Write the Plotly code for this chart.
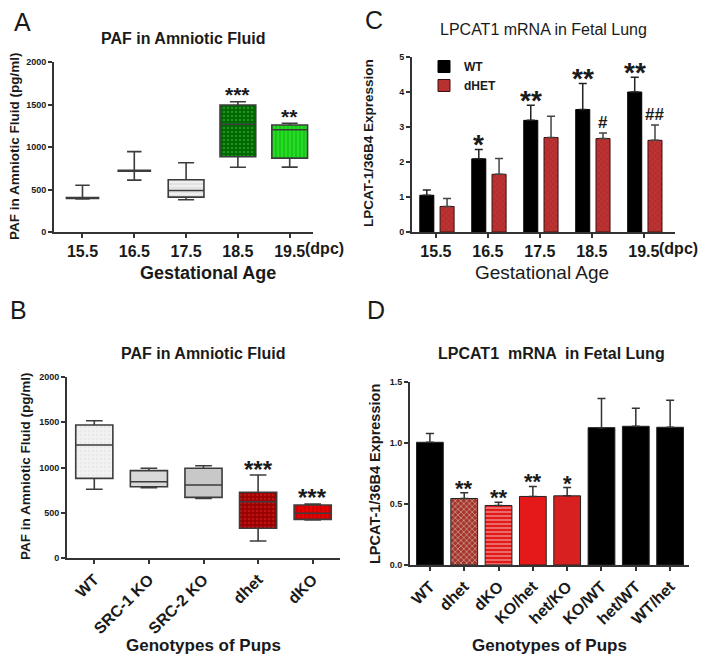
import plotly.graph_objects as go

W, H = 714, 666
FONT = "Arial, Liberation Sans, sans-serif"
INK = "#1a1a1a"
EDGE = "#3c3c3c"

# ---------------- Panel A : PAF in amniotic fluid by gestational age (box) --------------
a_ages = ["15.5", "16.5", "17.5", "18.5", "19.5"]
a_min = [388, 610, 380, 761, 763]
a_q1 = [396, 716, 410, 886, 869]
a_median = [402, 722, 488, 1267, 1203]
a_q3 = [406, 726, 615, 1494, 1259]
a_max = [550, 945, 815, 1533, 1279]
a_sig = ["", "", "", "***", "**"]

# ---------------- Panel B : PAF in amniotic fluid by genotype (box) ----------------------
b_genotypes = ["WT", "SRC-1 KO", "SRC-2 KO", "dhet", "dKO"]
b_min = [759, 777, 659, 188, 420]
b_q1 = [880, 788, 670, 328, 427]
b_median = [1249, 843, 807, 622, 494]
b_q3 = [1470, 965, 991, 726, 586]
b_max = [1517, 991, 1020, 917, 597]
b_sig = ["", "", "", "***", "***"]

# ---------------- Panel C : LPCAT1 mRNA, WT vs dHET, by age -----------------------------
c_ages = ["15.5", "16.5", "17.5", "18.5", "19.5"]
c_wt_mean = [1.05, 2.09, 3.19, 3.50, 4.00]
c_wt_sem = [0.15, 0.27, 0.43, 0.74, 0.42]
c_dhet_mean = [0.73, 1.65, 2.70, 2.67, 2.62]
c_dhet_sem = [0.23, 0.45, 0.61, 0.16, 0.44]
c_wt_sig = ["", "*", "**", "**", "**"]
c_dhet_sig = ["", "", "", "#", "##"]

# ---------------- Panel D : LPCAT1 mRNA by genotype -------------------------------------
d_genotypes = ["WT", "dhet", "dKO", "KO/het", "het/KO", "KO/WT", "het/WT", "WT/het"]
d_mean = [1.006, 0.545, 0.488, 0.562, 0.567, 1.126, 1.137, 1.129]
d_sem = [0.071, 0.047, 0.027, 0.082, 0.068, 0.238, 0.147, 0.221]
d_sig = ["", "**", "**", "**", "*", "", "", ""]


def px(x):
    return x / W


def py(y):
    return 1 - y / H


# styles (not data)
a_style = [
    dict(bg="white", fg="white", shape="", w=0.62),
    dict(bg="white", fg="white", shape="", w=0.62),
    dict(bg="#efefef", fg="#c8c8c8", shape="-", w=0.69),
    dict(bg="#006400", fg="#3fc03f", shape=".", w=0.69),
    dict(bg="#22dd22", fg="#119911", shape="|", w=0.69),
]
b_style = [
    dict(bg="#f2f2f2", fg="#e0e0e0", shape=".", w=0.68),
    dict(bg="#d9d9d9", fg="#d9d9d9", shape="", w=0.68),
    dict(bg="#c8c8c8", fg="#c8c8c8", shape="", w=0.68),
    dict(bg="#9a0000", fg="#e02828", shape=".", w=0.68),
    dict(bg="#e60000", fg="#a80000", shape="|", w=0.68),
]
d_bg = ["#000000", "#a33529", "#e31a1a", "#e51919", "#d82020", "#000000", "#000000", "#000000"]
d_fg = ["#000000", "#b8493d", "#ee3a3a", "#e51919", "#d82020", "#000000", "#000000", "#000000"]
d_shape = ["", "x", "-", "", "", "", "", ""]

fig = go.Figure()


def add_boxes(cats, lo, q1, med, q3, hi, styles, xa, ya):
    for i, c in enumerate(cats):
        st = styles[i]
        fig.add_trace(go.Bar(
            x=[c], y=[q3[i] - q1[i]], base=[q1[i]], width=st["w"],
            marker=dict(color=st["bg"], line=dict(width=0),
                        pattern=dict(shape=st["shape"], fgcolor=st["fg"], bgcolor=st["bg"],
                                     size=4, solidity=0.35)),
            xaxis=xa, yaxis=ya, showlegend=False, hoverinfo="skip"))
        fig.add_trace(go.Box(
            x=[c], q1=[q1[i]], median=[med[i]], q3=[q3[i]],
            lowerfence=[lo[i]], upperfence=[hi[i]], width=st["w"], whiskerwidth=0.45,
            fillcolor="rgba(0,0,0,0)", line=dict(color=EDGE, width=1.6),
            boxpoints=False, xaxis=xa, yaxis=ya, showlegend=False, hoverinfo="skip"))


add_boxes(a_ages, a_min, a_q1, a_median, a_q3, a_max, a_style, "x", "y")
add_boxes(b_genotypes, b_min, b_q1, b_median, b_q3, b_max, b_style, "x3", "y3")

# Panel C bars
C_W = 0.27
fig.add_trace(go.Bar(
    x=c_ages, y=c_wt_mean, width=C_W, offset=-0.31, name="WT",
    marker=dict(color="#000000", line=dict(color="#000000", width=1)),
    error_y=dict(type="data", array=c_wt_sem, arrayminus=[0] * len(c_wt_sem), symmetric=False,
                 color="#222222", thickness=1.5, width=4),
    xaxis="x2", yaxis="y2", hoverinfo="skip"))
fig.add_trace(go.Bar(
    x=c_ages, y=c_dhet_mean, width=C_W, offset=0.08, name="dHET",
    marker=dict(color="#b52d2d", line=dict(color="#3a1010", width=1),
                pattern=dict(shape="x", fgcolor="#cc4a4a", bgcolor="#b52d2d", size=4, solidity=0.3)),
    error_y=dict(type="data", array=c_dhet_sem, arrayminus=[0] * len(c_dhet_sem), symmetric=False,
                 color="#444444", thickness=1.5, width=4),
    xaxis="x2", yaxis="y2", hoverinfo="skip"))

# Panel D bars
fig.add_trace(go.Bar(
    x=d_genotypes, y=d_mean, width=0.78,
    marker=dict(color=d_bg, line=dict(color="#222222", width=1),
                pattern=dict(shape=d_shape, fgcolor=d_fg, bgcolor=d_bg, size=4, solidity=0.35)),
    error_y=dict(type="data", array=d_sem, arrayminus=[0] * len(d_sem), symmetric=False,
                 color="#333333", thickness=1.5, width=4),
    xaxis="x4", yaxis="y4", showlegend=False, hoverinfo="skip"))

ann = []


def txt(x, y, text, size, bold=True, xanchor="center", yanchor="middle", angle=0, xref="paper",
        yref="paper", xshift=0, yshift=0):
    ann.append(dict(x=x, y=y, xref=xref, yref=yref, text=text, showarrow=False, textangle=angle,
                    xanchor=xanchor, yanchor=yanchor, xshift=xshift, yshift=yshift,
                    font=dict(family=FONT, size=size, color=INK, weight="bold" if bold else "normal")))


def sig(xref, yref, x, y, text, size, extra=0):
    if not text:
        return
    if "*" in text:
        ys = 12 - 0.25 * size + extra
    else:
        ys = 9 + 0.1 * size + extra
    ann.append(dict(x=x, y=y, xref=xref, yref=yref, text=text, showarrow=False,
                    xanchor="center", yanchor="middle", yshift=ys,
                    font=dict(family=FONT, size=size, color=INK, weight="bold")))


for i in range(len(a_ages)):
    sig("x", "y", i, a_max[i], a_sig[i], 21)
for i in range(len(b_genotypes)):
    sig("x3", "y3", i, b_max[i], b_sig[i], 24)
for i in range(len(c_ages)):
    sig("x2", "y2", i - 0.31 + C_W / 2, c_wt_mean[i] + c_wt_sem[i], c_wt_sig[i], 28)
    sig("x2", "y2", i + 0.08 + C_W / 2, c_dhet_mean[i] + c_dhet_sem[i], c_dhet_sig[i], 17)
for i in range(len(d_genotypes)):
    sig("x4", "y4", i, d_mean[i] + d_sem[i], d_sig[i], 22, extra=-2)

# Panel letters
txt(px(22), py(22), "A", 25, bold=False)
txt(px(374), py(20), "C", 25, bold=False)
txt(px(18), py(310), "B", 25, bold=False)
txt(px(376), py(310), "D", 25, bold=False)

# Titles
txt(px(183), py(38), "PAF in Amniotic Fluid", 16)
txt(px(543), py(30), "LPCAT1 mRNA in Fetal Lung", 16, bold=False)
txt(px(203), py(353), "PAF in Amniotic Fluid", 16)
txt(px(551), py(353), "LPCAT1  mRNA  in Fetal Lung", 16)

# Axis titles
txt(px(15), py(147), "PAF in Amniotic Fluid (pg/ml)", 13.5, angle=-90)
txt(px(208), py(273), "Gestational Age", 18)
txt(px(368), py(143), "LPCAT-1/36B4 Expression", 13.5, angle=-90)
txt(px(542), py(272), "Gestational Age", 19, bold=False)
txt(px(25), py(467), "PAF in Amniotic Fluid (pg/ml)", 13.5, angle=-90)
txt(px(203), py(645), "Genotypes of Pups", 17)
txt(px(375), py(474), "LPCAT-1/36B4 Expression", 14.5, angle=-90)
txt(px(549), py(645), "Genotypes of Pups", 17)

# "(dpc)" suffix for the last age tick
txt(4, py(248), "(dpc)", 16, xanchor="left", xref="x", xshift=13)
txt(4, py(249), "(dpc)", 16, xanchor="left", xref="x2", xshift=13)

fig.update_layout(annotations=ann)

axis_common = dict(showline=True, linecolor="#333333", linewidth=2, ticks="outside", ticklen=4,
                   tickwidth=1.5, tickcolor="#333333", showgrid=False, zeroline=False,
                   automargin=False, fixedrange=True)
ytick_font = dict(family=FONT, size=9, color=INK, weight="bold")

fig.update_layout(
    width=W, height=H, autosize=False,
    margin=dict(l=0, r=0, t=0, b=0),
    paper_bgcolor="white", plot_bgcolor="white",
    barmode="overlay", boxmode="overlay",
    xaxis=dict(axis_common, domain=[px(54), px(313)], anchor="y", type="category",
               categoryorder="array", categoryarray=a_ages, range=[-0.55, 4.45],
               tickfont=dict(family=FONT, size=16, color=INK, weight="bold")),
    yaxis=dict(axis_common, domain=[py(232), py(62)], anchor="x", range=[0, 2000],
               tickvals=[0, 500, 1000, 1500, 2000], tickfont=ytick_font),
    xaxis2=dict(axis_common, domain=[px(412), px(675)], anchor="y2", type="category",
                categoryorder="array", categoryarray=c_ages, range=[-0.46, 4.6],
                tickfont=dict(family=FONT, size=16, color=INK, weight="bold")),
    yaxis2=dict(axis_common, domain=[py(232), py(57)], anchor="x2", range=[0, 5],
                tickvals=[0, 1, 2, 3, 4, 5], tickfont=ytick_font),
    xaxis3=dict(axis_common, domain=[px(67), px(340)], anchor="y3", type="category",
                categoryorder="array", categoryarray=b_genotypes, range=[-0.5, 4.5],
                tickangle=-45, tickfont=dict(family=FONT, size=16, color=INK, weight="bold")),
    yaxis3=dict(axis_common, domain=[py(558), py(377)], anchor="x3", range=[0, 2000],
                tickvals=[0, 500, 1000, 1500, 2000], tickfont=ytick_font),
    xaxis4=dict(axis_common, domain=[px(410), px(689)], anchor="y4", type="category",
                categoryorder="array", categoryarray=d_genotypes, range=[-0.58, 7.55],
                tickangle=-45, tickfont=dict(family=FONT, size=16, color=INK, weight="bold")),
    yaxis4=dict(axis_common, domain=[py(565), py(382)], anchor="x4", range=[0, 1.5],
                tickvals=[0, 0.5, 1.0, 1.5], tickformat=".1f", tickfont=ytick_font),
    legend=dict(x=px(424), y=py(52), xanchor="left", yanchor="top", bgcolor="rgba(0,0,0,0)",
                font=dict(family=FONT, size=12, color=INK, weight="bold"), tracegroupgap=0,
                itemwidth=30),
    showlegend=True,
)

fig.write_html("out.html", config={"displayModeBar": False},
               post_script="document.body.style.margin='0';")
